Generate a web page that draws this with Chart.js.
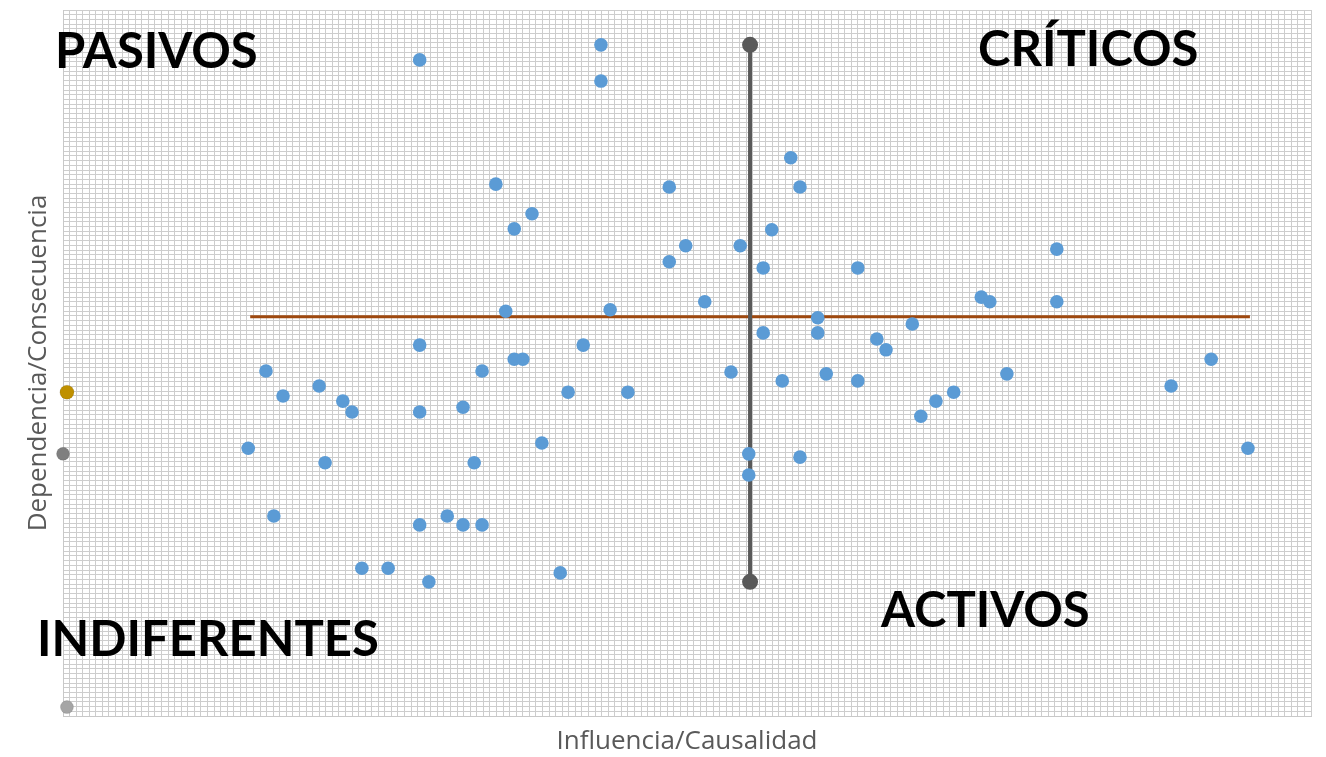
<!DOCTYPE html>
<html>
<head>
<meta charset="utf-8">
<script src="https://cdn.jsdelivr.net/npm/chart.js@4.4.1/dist/chart.umd.min.js"></script>
<style>
  html, body { margin: 0; padding: 0; background: #fff; }
  #wrap { width: 1326px; height: 757px; }
</style>
</head>
<body>
<div id="wrap"><canvas id="matriz"></canvas></div>
<script>
// influencia (x) / dependencia (y) de cada variable
var influencia = [54.3, 81.9, 81.9, 65.9, 71.4, 68.7, 92.3, 110.8, 112.2, 94.8,
    103.1, 107.9, 92.3, 106.6, 121.0, 151.3, 97.7, 139.8, 141.1, 151.3,
    67.4, 83.3, 114.9, 129.3, 106.6, 114.9, 123.9, 125.3, 54.3, 79.2,
    68.7, 70.0, 30.9, 63.8, 101.7, 116.2, 109.5, 121.0, 143.7, 174.8,
    168.7, 39.0, 33.5, 42.6, 44.0, 54.3, 60.9, 76.9, 86.0, 135.6,
    132.9, 130.6, 28.2, 72.9, 104.4, 112.2, 180.4, 39.9, 62.6, 104.4,
    32.1, 54.3, 58.5, 60.9, 63.8, 45.5, 49.5, 75.7, 55.7];
var dependencia = [139.4, 142.6, 134.9, 113.0, 106.7, 103.5, 112.4, 118.6, 112.4, 99.9,
    99.9, 103.3, 96.5, 95.2, 95.2, 99.2, 88.0, 89.0, 88.0, 88.0,
    86.0, 86.3, 84.6, 83.3, 81.4, 81.4, 80.1, 77.8, 78.8, 78.8,
    75.8, 75.8, 73.3, 73.3, 73.1, 72.7, 71.2, 71.2, 72.7, 75.8,
    70.1, 70.1, 68.0, 66.9, 64.6, 64.6, 65.6, 68.8, 68.8, 68.8,
    66.9, 63.7, 56.9, 58.0, 55.7, 55.0, 56.9, 53.8, 53.8, 51.2,
    42.5, 40.6, 42.5, 40.6, 40.6, 31.4, 31.4, 30.4, 28.5];

// ejes de los cuadrantes
var corteX = 104.6;            // linea vertical
var rangoVertical = [142.6, 28.5];
var corteY = 84.8;             // linea horizontal
var rangoHorizontal = [28.5, 180.7];

// puntos sueltos sobre el eje vertical
var extraOro = [{x: 0.6, y: 68.8}];
var extraGris = [{x: 0, y: 55.7}];
var extraClaro = [{x: 0.6, y: 1.9}];

var xMax = 190, yMax = 150;

var cuadrantes = [
    {text: 'PASIVOS', x: 55, y: 68},
    {text: 'CRÍTICOS', x: 978, y: 66},
    {text: 'ACTIVOS', x: 881, y: 627},
    {text: 'INDIFERENTES', x: 37, y: 656}
];

var puntos = influencia.map(function(v, i) {
    return {x: v, y: dependencia[i]};
});

var etiquetas = {
    id: 'etiquetas',
    afterDatasetsDraw: function(chart) {
        var ctx = chart.ctx;
        ctx.save();
        ctx.font = 'bold 49px Lato';
        ctx.fillStyle = '#000';
        ctx.textBaseline = 'alphabetic';
        cuadrantes.forEach(function(c) {
            ctx.fillText(c.text, c.x, c.y);
        });
        ctx.restore();
    }
};

var ctx = document.getElementById('matriz').getContext('2d');

var chart = new Chart(ctx, {
    type: 'scatter',
    data: {
        datasets: [{
            data: puntos,
            backgroundColor: '#5B9BD5',
            borderColor: '#5B9BD5',
            borderWidth: 0,
            pointRadius: 6.8,
            order: 0
        }, {
            data: [{x: corteX, y: rangoVertical[0]}, {x: corteX, y: rangoVertical[1]}],
            showLine: true,
            borderColor: '#595959',
            borderWidth: 4,
            backgroundColor: '#595959',
            pointRadius: 6,
            order: 1
        }, {
            data: [{x: rangoHorizontal[0], y: corteY}, {x: rangoHorizontal[1], y: corteY}],
            showLine: true,
            borderColor: '#9E480E',
            borderWidth: 3,
            pointRadius: 0,
            order: 2
        }, {
            data: extraOro,
            backgroundColor: '#BF9000',
            pointRadius: 7,
            order: 3
        }, {
            data: extraGris,
            backgroundColor: '#7F7F7F',
            pointRadius: 6.5,
            order: 3
        }, {
            data: extraClaro,
            backgroundColor: '#A5A5A5',
            pointRadius: 6.5,
            order: 3
        }]
    },
    options: {
        responsive: true,
        maintainAspectRatio: false,
        animation: false,
        clip: false,
        layout: {
            padding: {top: 10, right: 15, left: 0, bottom: 0}
        },
        plugins: {
            legend: {display: false},
            tooltip: {enabled: false}
        },
        scales: {
            x: {
                type: 'linear',
                min: 0,
                max: xMax,
                ticks: {display: false, stepSize: 1, autoSkip: false},
                grid: {color: '#cdcdcd', lineWidth: 1, drawTicks: false},
                border: {display: true, color: '#c8c8c8'},
                title: {
                    display: true,
                    text: 'Influencia/Causalidad',
                    color: '#595959',
                    font: {family: 'Open Sans', size: 26},
                    padding: {top: 0, bottom: 0}
                },
                afterFit: function(scale) { scale.height = 41; }
            },
            y: {
                type: 'linear',
                min: 0,
                max: yMax,
                ticks: {display: false, stepSize: 1, autoSkip: false},
                grid: {color: '#cdcdcd', lineWidth: 1, drawTicks: false},
                border: {display: true, color: '#c8c8c8'},
                title: {
                    display: true,
                    text: 'Dependencia/Consecuencia',
                    color: '#595959',
                    font: {family: 'Open Sans', size: 26},
                    padding: {top: 23, bottom: 0}
                },
                afterFit: function(scale) { scale.width = 63; }
            }
        }
    },
    plugins: [etiquetas]
});
</script>
</body>
</html>
